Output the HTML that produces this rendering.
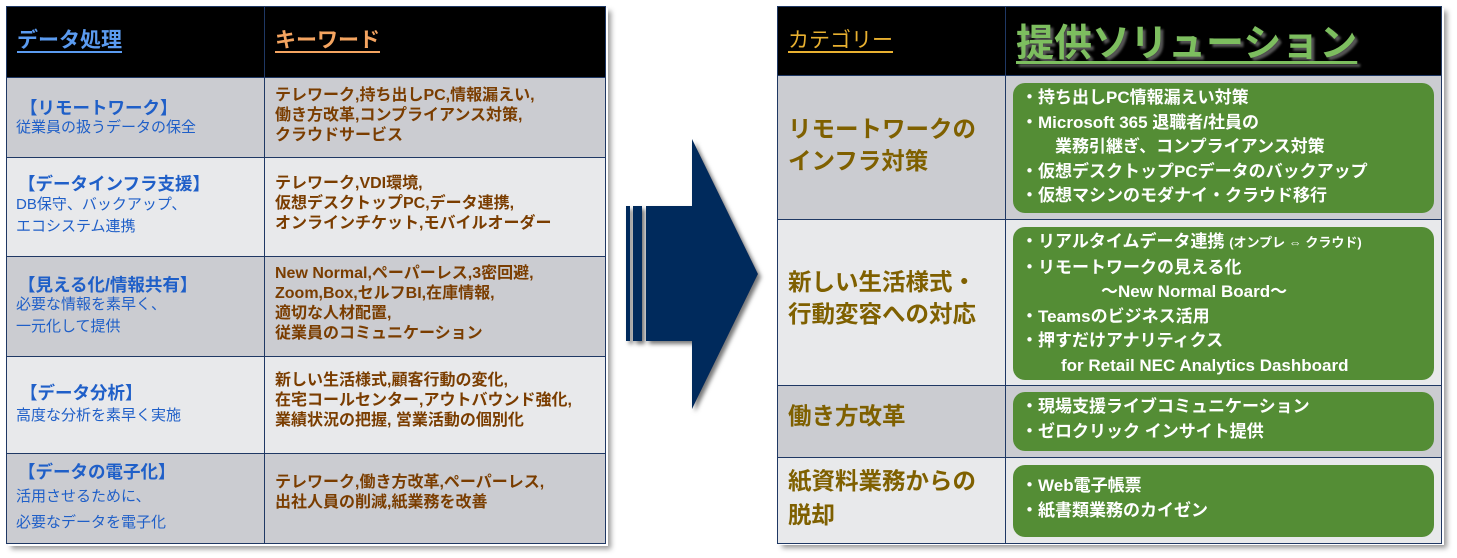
<!DOCTYPE html>
<html><head><meta charset="utf-8"><style>
*{margin:0;padding:0;box-sizing:border-box}
body{width:1457px;height:558px;background:#fff;position:relative;overflow:hidden;font-family:"Liberation Sans","Noto Sans CJK JP",sans-serif}
.a{position:absolute}
.c{position:absolute;border:1.5px solid #1f3864}
.g{background:#cbccd1}.l{background:#e8e9eb}.k{background:#000}
.t1{color:#1f5fc8;font-weight:bold;font-size:17.5px;white-space:nowrap}
.t2{color:#1f5fc8;font-size:15px;line-height:22px;white-space:nowrap}
.kw{color:#7a3d00;font-weight:bold;font-size:16px;line-height:20px;white-space:nowrap}
.cat{color:#7f6000;font-weight:bold;font-size:23.5px;line-height:32px;white-space:nowrap}
.gb{position:absolute;background:#548d35;border-radius:12px;color:#fff;font-weight:bold;font-size:17px;line-height:24.5px;padding:3px 0 0 8px;white-space:nowrap}
</style></head><body>
<div class="a" style="left:8px;top:8px;width:600px;height:538px;box-shadow:3px 3px 5px #999"></div>
<div class="c k" style="left:6px;top:6px;width:259px;height:72px"></div>
<div class="c k" style="left:264px;top:6px;width:342px;height:72px"></div>
<div class="a" style="left:17px;top:24px;font-size:21px;font-weight:bold;color:#5b9bf0;text-decoration:underline;text-underline-offset:4px">データ処理</div>
<div class="a" style="left:275px;top:24px;font-size:21px;font-weight:bold;color:#f4a460;text-decoration:underline;text-underline-offset:4px">キーワード</div>

<div class="c g" style="left:6px;top:77px;width:259px;height:81px"></div>
<div class="c g" style="left:264px;top:77px;width:342px;height:81px"></div>
<div class="c l" style="left:6px;top:157px;width:259px;height:100px"></div>
<div class="c l" style="left:264px;top:157px;width:342px;height:100px"></div>
<div class="c g" style="left:6px;top:256px;width:259px;height:101px"></div>
<div class="c g" style="left:264px;top:256px;width:342px;height:101px"></div>
<div class="c l" style="left:6px;top:356px;width:259px;height:98px"></div>
<div class="c l" style="left:264px;top:356px;width:342px;height:98px"></div>
<div class="c g" style="left:6px;top:453px;width:259px;height:91px"></div>
<div class="c g" style="left:264px;top:453px;width:342px;height:91px"></div>

<div class="a t1" style="left:20px;top:95px">【リモートワーク】</div>
<div class="a t2" style="left:16px;top:117px">従業員の扱うデータの保全</div>
<div class="a t1" style="left:18px;top:171px">【データインフラ支援】</div>
<div class="a t2" style="left:16px;top:194px">DB保守、バックアップ、<br>エコシステム連携</div>
<div class="a t1" style="left:18px;top:272px">【見える化/情報共有】</div>
<div class="a t2" style="left:16px;top:294px">必要な情報を素早く、<br>一元化して提供</div>
<div class="a t1" style="left:20px;top:380px">【データ分析】</div>
<div class="a t2" style="left:16px;top:405px">高度な分析を素早く実施</div>
<div class="a t1" style="left:18px;top:459px">【データの電子化】</div>
<div class="a t2" style="left:16px;top:484px;line-height:26px">活用させるために、<br>必要なデータを電子化</div>

<div class="a kw" style="left:275px;top:86px">テレワーク,持ち出しPC,情報漏えい,<br>働き方改革,コンプライアンス対策,<br>クラウドサービス</div>
<div class="a kw" style="left:275px;top:174px">テレワーク,VDI環境,<br>仮想デスクトップPC,データ連携,<br>オンラインチケット,モバイルオーダー</div>
<div class="a kw" style="left:275px;top:264px">New Normal,ペーパーレス,3密回避,<br>Zoom,Box,セルフBI,在庫情報,<br>適切な人材配置,<br>従業員のコミュニケーション</div>
<div class="a kw" style="left:275px;top:371px">新しい生活様式,顧客行動の変化,<br>在宅コールセンター,アウトバウンド強化,<br>業績状況の把握, 営業活動の個別化</div>
<div class="a kw" style="left:275px;top:473px">テレワーク,働き方改革,ペーパーレス,<br>出社人員の削減,紙業務を改善</div>

<svg class="a" style="left:600px;top:120px" width="180" height="310">
<defs><filter id="s"><feDropShadow dx="3" dy="3" stdDeviation="2" flood-color="#777"/></filter></defs>
<g fill="#002a5c" filter="url(#s)">
<rect x="26" y="86" width="4" height="135"/><rect x="33" y="86" width="9" height="135"/>
<polygon points="46,86 92,86 92,19 158,154 92,289 92,221 46,221"/>
</g></svg>

<div class="a" style="left:779px;top:8px;width:665px;height:537px;box-shadow:3px 3px 5px #999"></div>
<div class="c k" style="left:777px;top:6px;width:229px;height:70px"></div>
<div class="c k" style="left:1005px;top:6px;width:437px;height:70px"></div>
<div class="a" style="left:788px;top:24px;font-size:21px;color:#e8b030;text-decoration:underline;text-underline-offset:4px">カテゴリー</div>
<div class="a" style="left:1016px;top:12px;font-size:38px;font-weight:bold;color:#7dbe5f;text-decoration:underline;text-underline-offset:5px;text-shadow:3px 3px 2px #555;white-space:nowrap">提供ソリューション</div>

<div class="c g" style="left:777px;top:75px;width:229px;height:145px"></div>
<div class="c g" style="left:1005px;top:75px;width:437px;height:145px"></div>
<div class="c l" style="left:777px;top:219px;width:229px;height:167px"></div>
<div class="c l" style="left:1005px;top:219px;width:437px;height:167px"></div>
<div class="c g" style="left:777px;top:385px;width:229px;height:73px"></div>
<div class="c g" style="left:1005px;top:385px;width:437px;height:73px"></div>
<div class="c l" style="left:777px;top:457px;width:229px;height:87px"></div>
<div class="c l" style="left:1005px;top:457px;width:437px;height:87px"></div>

<div class="a cat" style="left:788px;top:113px">リモートワークの<br>インフラ対策</div>
<div class="a cat" style="left:788px;top:266px">新しい生活様式・<br>行動変容への対応</div>
<div class="a cat" style="left:788px;top:400px">働き方改革</div>
<div class="a cat" style="left:788px;top:464px;line-height:34px">紙資料業務からの<br>脱却</div>

<div class="gb" style="left:1013px;top:83px;width:421px;height:130px">・持ち出しPC情報漏えい対策<br>・Microsoft 365 退職者/社員の<br>　　業務引継ぎ、コンプライアンス対策<br>・仮想デスクトップPCデータのバックアップ<br>・仮想マシンのモダナイ・クラウド移行</div>
<div class="gb" style="left:1013px;top:227px;width:421px;height:153px">・リアルタイムデータ連携 <span style="font-size:13px">(オンプレ ⇔ クラウド)</span><br>・リモートワークの見える化<br><span style="padding-left:80px">～New Normal Board～</span><br>・Teamsのビジネス活用<br>・押すだけアナリティクス<br><span style="padding-left:40px">for Retail NEC Analytics Dashboard</span></div>
<div class="gb" style="left:1013px;top:392px;width:421px;height:59px">・現場支援ライブコミュニケーション<br>・ゼロクリック インサイト提供</div>
<div class="gb" style="left:1013px;top:465px;width:421px;height:72px;padding-top:9px">・Web電子帳票<br>・紙書類業務のカイゼン</div>
</body></html>
